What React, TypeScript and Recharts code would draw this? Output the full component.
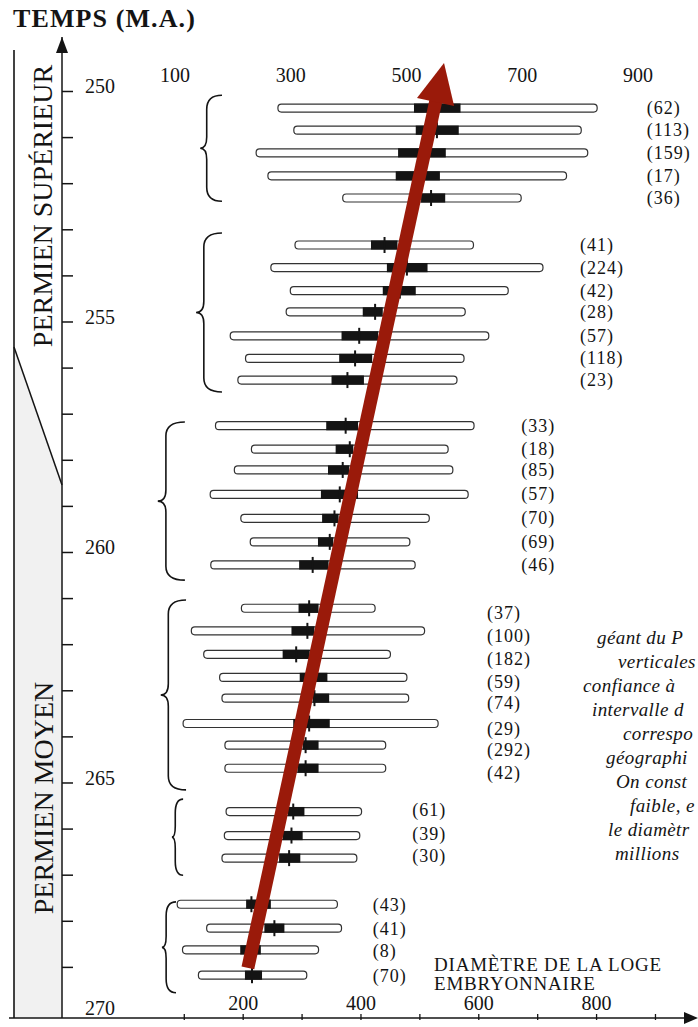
import React from 'react';
import { ComposedChart, XAxis, YAxis, ReferenceLine, Scatter } from 'recharts';

// sample sizes, one per horizontal bar (top to bottom)
const sampleSize = [62, 113, 159, 17, 36, 41, 224, 42, 28, 57, 118, 23, 33, 18, 85, 57, 70, 69, 46, 37, 100, 182, 59, 74, 29, 292, 42, 61, 39, 30, 43, 41, 8, 70];
const sampleGroup = [0, 0, 0, 0, 0, 1, 1, 1, 1, 1, 1, 1, 2, 2, 2, 2, 2, 2, 2, 3, 3, 3, 3, 3, 3, 3, 3, 4, 4, 4, 5, 5, 5, 5];
// age of each sample (M.A.)
const sampleAge = [
  250.36, 250.84, 251.33, 251.83, 252.31,
  253.33, 253.82, 254.32, 254.78, 255.3, 255.79, 256.26,
  257.25, 257.76, 258.21, 258.74, 259.26, 259.77, 260.27,
  261.21, 261.7, 262.21, 262.71, 263.16, 263.71, 264.18, 264.68,
  265.62, 266.14, 266.63,
  267.63, 268.15, 268.62, 269.17,
];
// embryonic chamber diameter: full range, confidence interval, mean
const rangeMin = [259, 286, 222, 242, 369, 288, 247, 280, 273, 178, 204, 191, 153, 214, 185, 144, 196, 212, 145, 197, 112, 133, 160, 164, 98, 169, 169, 171, 168, 164, 88, 138, 97, 124];
const rangeMax = [801, 774, 785, 749, 672, 591, 709, 650, 577, 617, 575, 563, 592, 548, 556, 582, 516, 483, 492, 424, 508, 450, 478, 481, 531, 442, 442, 401, 398, 393, 360, 367, 328, 308];
const ciMin = [490, 493, 463, 459, 502, 417, 444, 437, 403, 367, 363, 350, 341, 357, 344, 332, 334, 327, 295, 294, 282, 267, 296, 318, 285, 301, 292, 276, 267, 261, 205, 236, 195, 203];
const ciMax = [569, 566, 544, 534, 543, 462, 513, 493, 437, 429, 419, 405, 395, 387, 380, 395, 362, 353, 345, 328, 321, 313, 343, 346, 347, 328, 328, 304, 301, 297, 247, 270, 230, 232];
const meanValue = [529, 529, 504, 497, 519, 440, 478, 466, 424, 397, 390, 377, 374, 381, 369, 364, 355, 347, 318, 312, 309, 290, 318, 321, 312, 306, 306, 285, 282, 278, 214, 253, 211, 215];

// groups: brace extent and where the (n) column sits
const groupStart = [250.08, 253.07, 257.17, 261.03, 265.35, 267.58];
const groupEnd = [252.38, 256.52, 260.6, 265.15, 267.0, 269.55];
const groupBraceTip = [127, 120, 55, 60, 79, 62];
const groupBraceArm = [164, 164, 101, 103, 98, 86];
const groupCountAt = [885, 772, 672, 614, 487, 420];
// the (n) column of the 4th group sits a little below its bars
const groupCountAge = [0, 0, 0, 0.11, -0.04, 0.02];

// trend arrow (diameter, age)
const trendFrom = { d: 208, age: 269.01 };
const trendTo = { d: 541, age: 249.38 };

const ageTicks = [250, 251, 252, 253, 254, 255, 256, 257, 258, 259, 260, 261, 262, 263, 264, 265, 266, 267, 268, 269, 270];
const bottomTicks = [100, 200, 300, 400, 500, 600, 700, 800, 900];
const topTicks = [100, 300, 500, 700, 900];

const noteLines = ['géant du P', 'verticales', 'confiance à', 'intervalle d', 'correspo', 'géographi', 'On const', 'faible, e', 'le diamètr', 'millions'];
const noteLeft = [597, 618, 583, 592, 623, 606, 616, 630, 608, 615];

const SERIF = '"Liberation Serif", "DejaVu Serif", serif';
const INK = '#141414';
const RED = '#9a1a0a';

const YTick = (p: any) => {
  const v = p.payload.value;
  return (
    <g>
      {v < 270 && <line x1={p.x} x2={p.x + 11} y1={p.y} y2={p.y} stroke={INK} strokeWidth={1.5} />}
      {v % 5 === 0 && (
        <text x={p.x + 23} y={p.y + 2} fontFamily={SERIF} fontSize={20} fill={INK}>
          {v}
        </text>
      )}
    </g>
  );
};

const BottomTick = (p: any) => {
  const v = p.payload.value;
  return (
    <g>
      <line x1={p.x} x2={p.x} y1={p.y - 4} y2={p.y + 2} stroke={INK} strokeWidth={1.3} />
      {v % 200 === 0 && (
        <text x={p.x} y={p.y - 8} textAnchor="middle" fontFamily={SERIF} fontSize={20} fill={INK}>
          {v}
        </text>
      )}
    </g>
  );
};

const TopTick = (p: any) => (
  <text x={p.x} y={p.y + 45} textAnchor="middle" fontFamily={SERIF} fontSize={20} fill={INK}>
    {p.payload.value}
  </text>
);

const capsule = (p: any) => {
  const x = Math.min(p.x1, p.x2);
  return <rect x={x} y={p.y1 - 4} width={Math.abs(p.x2 - p.x1)} height={8} rx={3.5} fill="#fff" stroke="#333" strokeWidth={1.2} />;
};

const ciBlock = (p: any) => {
  const x = Math.min(p.x1, p.x2);
  return <rect x={x} y={p.y1 - 4.6} width={Math.abs(p.x2 - p.x1)} height={9.2} fill={INK} />;
};

const meanMark = (p: any) => <line x1={p.x1} x2={p.x1} y1={p.y1 - 8} y2={p.y1 + 8} stroke={INK} strokeWidth={2} />;

const brace = (p: any) => {
  const xt = p.x1;
  const xa = p.x2;
  const ya = p.y1;
  const yb = p.y2;
  const xm = xt + (xa - xt) * 0.3;
  const ym = (ya + yb) / 2;
  const r = Math.min(14, (yb - ya) / 5);
  const d = `M${xa},${ya} Q${xm},${ya} ${xm},${ya + r} L${xm},${ym - r * 0.8} Q${xm},${ym} ${xt},${ym} Q${xm},${ym} ${xm},${ym + r * 0.8} L${xm},${yb - r} Q${xm},${yb} ${xa},${yb}`;
  return <path d={d} fill="none" stroke={INK} strokeWidth={1.6} />;
};

const trendArrow = (p: any) => {
  const dx = p.x2 - p.x1;
  const dy = p.y2 - p.y1;
  const len = Math.hypot(dx, dy);
  const ux = dx / len;
  const uy = dy / len;
  const nx = -uy;
  const ny = ux;
  const head = 40;
  const half = 19;
  const bx = p.x2 - ux * head;
  const by = p.y2 - uy * head;
  return (
    <g>
      <line x1={p.x1} y1={p.y1} x2={bx + ux * 2} y2={by + uy * 2} stroke={RED} strokeWidth={13} />
      <polygon points={`${p.x2},${p.y2} ${bx + nx * half},${by + ny * half} ${bx - nx * half},${by - ny * half}`} fill={RED} />
    </g>
  );
};

const CountLabel = (p: any) => (
  <text x={p.cx} y={p.cy + 6} fontFamily={SERIF} fontSize={18} letterSpacing={1} fill={INK}>
    ({p.payload.n})
  </text>
);

const Decor = () => (
  <svg width={698} height={1027} style={{ position: 'absolute', left: 0, top: 0 }}>
    <polygon points="14,347 62,485 62,1018 14,1018" fill="#f1f1f1" />
    <line x1={14} y1={50} x2={14} y2={1018} stroke={INK} strokeWidth={1.6} />
    <line x1={14} y1={347} x2={62} y2={485} stroke={INK} strokeWidth={1.5} />
    <polygon points="62,37 56,53 68,53" fill={INK} />
    <line x1={9} y1={1018} x2={686} y2={1018} stroke={INK} strokeWidth={1.6} />
    <polygon points="698,1018 684,1012 684,1024" fill={INK} />
    <text x={13} y={27} fontFamily={SERIF} fontWeight="bold" fontSize={26} letterSpacing={1.1} fill={INK}>
      TEMPS (M.A.)
    </text>
    <text x={52} y={206} transform="rotate(-90 52 206)" textAnchor="middle" fontFamily={SERIF} fontSize={28} fill={INK}>
      PERMIEN SUPÉRIEUR
    </text>
    <text x={53} y={798} transform="rotate(-90 53 798)" textAnchor="middle" fontFamily={SERIF} fontSize={28} fill={INK}>
      PERMIEN MOYEN
    </text>
    <text fontFamily={SERIF} fontSize={19} letterSpacing={0.8} fill={INK}>
      <tspan x={434} y={971}>DIAMÈTRE DE LA LOGE</tspan>
      <tspan x={434} y={990}>EMBRYONNAIRE</tspan>
    </text>
    {noteLines.map((s, i) => (
      <text key={s} x={noteLeft[i]} y={644 + i * 24} fontFamily={SERIF} fontStyle="italic" fontSize={19} letterSpacing={0.4} fill={INK}>
        {s}
      </text>
    ))}
  </svg>
);

export default function App() {
  const rows = sampleSize.map((n, i) => ({
    n,
    t: sampleAge[i] + groupCountAge[sampleGroup[i]],
    x: groupCountAt[sampleGroup[i]],
  }));

  return (
    <div style={{ position: 'absolute', left: 0, top: 0, width: 698, height: 1027, background: '#fff', overflow: 'hidden' }}>
      <Decor />
      <div style={{ position: 'absolute', left: 0, top: 0 }}>
        <ComposedChart width={698} height={1027} margin={{ top: 0, right: 0, bottom: 0, left: 0 }}>
          <XAxis
            xAxisId="top"
            orientation="top"
            type="number"
            dataKey="x"
            domain={[-95.2, 1003.6]}
            allowDataOverflow
            ticks={topTicks}
            interval={0}
            height={37}
            axisLine={false}
            tickLine={false}
            tickSize={0}
            tickMargin={0}
            tick={<TopTick />}
          />
          <XAxis
            xAxisId="bot"
            orientation="bottom"
            type="number"
            dataKey="x"
            domain={[-107.6, 972.2]}
            allowDataOverflow
            ticks={bottomTicks}
            interval={0}
            height={9}
            axisLine={false}
            tickLine={false}
            tickSize={0}
            tickMargin={0}
            tick={<BottomTick />}
          />
          <YAxis
            yAxisId="t"
            type="number"
            dataKey="t"
            domain={[248.818, 270.098]}
            reversed
            allowDataOverflow
            ticks={ageTicks}
            interval={0}
            width={62}
            axisLine={{ stroke: INK, strokeWidth: 1.5 }}
            tickLine={false}
            tickSize={0}
            tickMargin={0}
            tick={<YTick />}
          />

          {groupStart.map((g0, g) => (
            <ReferenceLine
              key={`brace${g}`}
              xAxisId="bot"
              yAxisId="t"
              segment={[
                { x: groupBraceTip[g], y: g0 },
                { x: groupBraceArm[g], y: groupEnd[g] },
              ]}
              shape={brace}
            />
          ))}

          {sampleAge.map((t, i) => (
            <ReferenceLine
              key={`range${i}`}
              xAxisId="bot"
              yAxisId="t"
              segment={[
                { x: rangeMin[i], y: t },
                { x: rangeMax[i], y: t },
              ]}
              shape={capsule}
            />
          ))}
          {sampleAge.map((t, i) => (
            <ReferenceLine
              key={`ci${i}`}
              xAxisId="bot"
              yAxisId="t"
              segment={[
                { x: ciMin[i], y: t },
                { x: ciMax[i], y: t },
              ]}
              shape={ciBlock}
            />
          ))}
          {sampleAge.map((t, i) => (
            <ReferenceLine
              key={`mean${i}`}
              xAxisId="bot"
              yAxisId="t"
              segment={[
                { x: meanValue[i], y: t },
                { x: meanValue[i], y: t },
              ]}
              shape={meanMark}
            />
          ))}

          <Scatter xAxisId="bot" yAxisId="t" data={rows} shape={<CountLabel />} isAnimationActive={false} />

          <ReferenceLine
            xAxisId="bot"
            yAxisId="t"
            segment={[
              { x: trendFrom.d, y: trendFrom.age },
              { x: trendTo.d, y: trendTo.age },
            ]}
            shape={trendArrow}
          />
        </ComposedChart>
      </div>
    </div>
  );
}
